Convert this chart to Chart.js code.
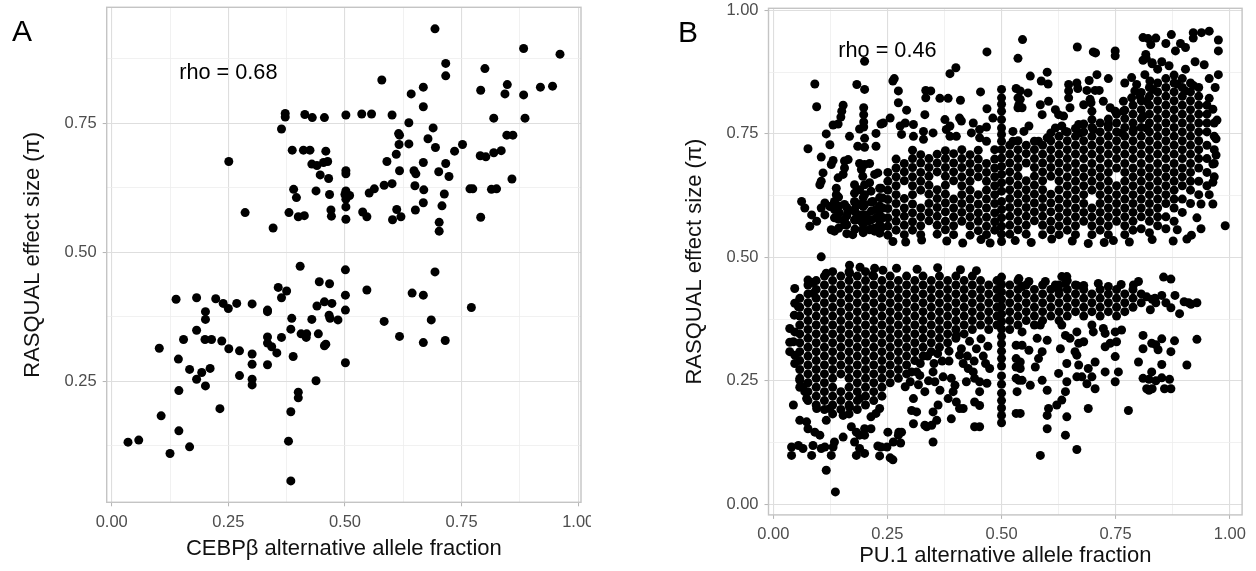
<!DOCTYPE html>
<html>
<head>
<meta charset="utf-8">
<script src="https://cdn.jsdelivr.net/npm/chart.js@4.4.1/dist/chart.umd.min.js"></script>
<style>
  body { margin: 0; width: 1256px; height: 571px; background: #fff; position: relative; overflow: hidden;
         font-family: "Liberation Sans", Arial, Helvetica, sans-serif; }
  canvas { position: absolute; top: 0; }
  #chartA { left: 0; }
  #chartB { left: 591px; }
  .tag { position: absolute; font-size: 30px; line-height: 1; color: #000; }
</style>
</head>
<body>
<canvas id="chartA" width="591" height="571"></canvas>
<canvas id="chartB" width="665" height="571"></canvas>
<div class="tag" style="left:12px;top:16px">A</div>
<div class="tag" style="left:678px;top:17px">B</div>
<script>
// ---- panel A: CEBPb allele fraction vs RASQUAL effect size ----
var cebpbPoints = [
  [.251,.676],[.286,.577],[.346,.547],[.372,.769],[.372,.762],[.364,.739],[.414,.767],[.430,.761],[.456,.761],
  [.387,.698],[.411,.698],[.425,.698],[.459,.696],[.429,.671],[.440,.668],[.454,.674],[.463,.676],[.447,.650],
  [.465,.643],[.390,.622],[.396,.606],[.438,.619],[.467,.612],[.380,.577],[.400,.569],[.413,.571],[.470,.582],
  [.471,.570],[.693,.933],[.883,.895],[.961,.884],[.716,.866],[.716,.842],[.800,.856],[.579,.834],[.848,.825],
  [.843,.807],[.791,.814],[.919,.820],[.945,.822],[.883,.805],[.668,.820],[.642,.807],[.668,.782],[.502,.766],
  [.536,.768],[.557,.768],[.601,.766],[.819,.760],[.886,.760],[.637,.751],[.689,.741],[.615,.730],[.617,.727],
  [.616,.709],[.637,.710],[.678,.720],[.694,.703],[.735,.696],[.752,.709],[.847,.727],[.860,.727],[.610,.690],
  [.590,.676],[.790,.687],[.802,.685],[.819,.693],[.835,.697],[.716,.672],[.668,.674],[.617,.658],[.648,.658],
  [.652,.652],[.701,.656],[.723,.647],[.858,.642],[.584,.630],[.601,.633],[.650,.629],[.669,.621],[.552,.615],
  [.563,.623],[.768,.623],[.774,.623],[.814,.622],[.825,.623],[.502,.658],[.502,.652],[.502,.619],[.500,.612],
  [.510,.610],[.502,.603],[.502,.588],[.502,.564],[.538,.578],[.547,.569],[.602,.563],[.611,.583],[.620,.569],
  [.651,.582],[.668,.596],[.713,.613],[.708,.590],[.702,.558],[.702,.541],[.791,.568],
  [.404,.473],[.445,.443],[.467,.439],[.357,.432],[.375,.425],[.364,.412],[.138,.409],[.182,.412],[.223,.410],
  [.239,.401],[.250,.391],[.268,.401],[.301,.400],[.334,.388],[.334,.385],[.440,.396],[.456,.404],[.472,.401],
  [.466,.378],[.468,.372],[.485,.369],[.429,.370],[.386,.372],[.384,.351],[.406,.342],[.417,.335],[.418,.342],
  [.443,.342],[.456,.319],[.459,.322],[.389,.298],[.438,.251],[.400,.229],[.400,.218],[.384,.191],[.379,.134],
  [.384,.057],[.102,.314],[.143,.293],[.154,.331],[.167,.273],[.182,.349],[.193,.267],[.182,.254],[.201,.385],
  [.201,.370],[.200,.331],[.214,.331],[.211,.275],[.201,.241],[.236,.328],[.251,.313],[.274,.309],[.274,.261],
  [.301,.303],[.301,.283],[.301,.254],[.301,.243],[.334,.336],[.334,.324],[.343,.317],[.354,.305],[.334,.282],
  [.364,.335],[.144,.232],[.106,.183],[.144,.154],[.167,.123],[.125,.110],[.035,.132],[.058,.136],[.232,.197],
  [.501,.466],[.501,.417],[.547,.427],[.501,.388],[.584,.366],[.617,.337],[.644,.421],[.668,.417],[.693,.462],
  [.685,.369],[.668,.325],[.715,.329],[.771,.393],[.501,.286]
];

// ---- panel B: PU.1 allele fraction vs RASQUAL effect size ----
var pu1UpperSparse = [
  [.20,.897],[.091,.851],[.183,.85],[.20,.84],[.095,.805],[.153,.808],[.15,.796],[.148,.784],[.198,.803],[.198,.789],
  [.198,.774],[.131,.768],[.142,.77],[.189,.76],[.198,.764],[.116,.75],[.124,.728],[.167,.745],[.20,.741],[.20,.723],
  [.185,.725],[.225,.751],[.236,.77],[.225,.725],[.076,.72],[.105,.703],[.131,.696],[.127,.688],[.156,.695],[.164,.698],
  [.156,.681],[.153,.668],[.189,.69],[.20,.688],[.211,.69],[.109,.671],[.105,.654],[.102,.647],[.193,.678],[.196,.664],
  [.142,.661],[.138,.64],[.138,.627],[.178,.647],[.178,.63],[.189,.637],[.20,.647],[.211,.651],[.222,.668],[.229,.671],
  [.062,.613],[.069,.60],[.084,.586],[.105,.60],[.113,.61],[.124,.603],[.113,.586],[.134,.613],[.134,.597],[.134,.58],
  [.145,.59],[.156,.607],[.164,.593],[.156,.576],[.178,.613],[.178,.597],[.178,.576],[.189,.607],[.189,.586],[.193,.573],
  [.20,.627],[.20,.607],[.204,.586],[.207,.573],[.214,.634],[.218,.613],[.225,.597],[.225,.58],[.222,.559],[.236,.64],
  [.24,.62],[.24,.60],[.24,.58],[.236,.559],[.08,.563],[.095,.573],[.127,.556],[.134,.553],[.156,.566],[.174,.546],
  [.196,.556],[.211,.556],[.222,.553],
  [.468,.916],[.546,.941],[.536,.903],[.40,.884],[.387,.872],[.265,.862],[.262,.857],[.274,.837],[.274,.813],[.292,.798],
  [.334,.838],[.345,.837],[.334,.823],[.365,.822],[.383,.822],[.41,.818],[.454,.835],[.468,.801],[.481,.782],[.532,.842],
  [.536,.823],[.536,.803],[.332,.789],[.376,.779],[.387,.766],[.408,.782],[.412,.776],[.438,.772],[.452,.759],[.467,.764],
  [.241,.772],[.256,.782],[.278,.766],[.289,.772],[.307,.769],[.281,.749],[.307,.745],[.329,.755],[.35,.752],[.329,.739],
  [.379,.759],[.387,.745],[.401,.745],[.434,.752],[.452,.742],[.467,.735],[.525,.755],[.525,.735],
  [.5,.84],[.5,.823],[.5,.81],[.5,.796],[.5,.779],[.5,.762],[.5,.749],[.5,.735],[.5,.718],[.5,.701],[.5,.684],[.5,.668],
  [.5,.651],[.5,.634],[.5,.613],[.5,.597],[.5,.58],[.5,.563],[.5,.547],[.5,.532],
  [.666,.926],[.701,.916],[.706,.914],[.749,.918],[.749,.908],[.81,.945],[.821,.943],[.827,.931],[.816,.911],[.81,.899],
  [.83,.894],[.563,.867],[.60,.875],[.587,.857],[.602,.851],[.541,.837],[.558,.833],[.541,.82],[.545,.803],[.538,.809],
  [.585,.809],[.603,.816],[.589,.789],[.647,.85],[.647,.837],[.665,.853],[.667,.842],[.692,.858],[.709,.87],[.714,.838],
  [.734,.862],[.687,.838],[.694,.82],[.705,.838],[.647,.823],[.65,.803],[.636,.786],[.618,.799],[.625,.789],[.68,.809],
  [.696,.813],[.698,.796],[.723,.816],[.738,.803],[.749,.796],[.77,.853],[.785,.864],[.796,.85],[.792,.837],[.785,.823],
  [.803,.826],[.814,.87],[.825,.857],[.832,.84],[.818,.816],[.767,.816],[.767,.796],[.81,.786],[.618,.762],[.632,.766],
  [.64,.755],[.669,.769],[.673,.752],[.698,.779],[.701,.759],[.56,.766],[.549,.755],[.581,.735],[.60,.742],[.734,.769],
  [.763,.752],[.789,.759],[.818,.762],
  [.955,.958],[.938,.955],[.92,.955],[.92,.944],[.975,.94],[.975,.918],[.892,.933],[.903,.925],[.872,.951],[.838,.944],
  [.86,.933],[.881,.918],[.903,.881],[.924,.896],[.944,.89],[.955,.862],[.975,.87],[.968,.844],[.99,.564],[.851,.896],
  [.867,.888],[.842,.881],[.817,.903],[.83,.892],[.885,.851],[.903,.837],[.92,.848],[.955,.822],[.963,.80],[.972,.778],
  [.97,.74],[.97,.707],[.963,.689],[.963,.652],[.955,.627],[.963,.608],[.937,.608],[.928,.58],[.916,.545],[.937,.558],
  [.885,.556],[.876,.533],[.906,.537],
  [.29,.531],[.325,.535],[.38,.533],[.415,.529],[.455,.536],[.53,.534],[.565,.53],[.61,.537],[.655,.533],[.69,.528],
  [.745,.534],[.78,.531],[.83,.536],[.262,.532],[.475,.529],[.725,.53]
];

// dense part of the upper band, one column per x: [x, y, y, ...]
var pu1UpperCols = [
  [.143,.559,.577,.604,.622],[.161,.548,.566,.584,.601],[.179,.557,.575,.592,.611],[.197,.55,.567,.585,.603,.621],
  [.215,.558,.576,.594,.612],[.233,.549,.567,.586,.604,.621,.64],[.251,.545,.563,.58,.599,.617,.636,.654,.672],
  [.269,.555,.573,.59,.609,.627,.645,.663,.681,.699],[.287,.546,.565,.583,.6,.619,.655,.673,.69],
  [.305,.555,.572,.59,.608,.627,.645,.663,.682,.7,.717],[.323,.546,.564,.582,.6,.636,.654,.672,.691,.708],
  [.341,.574,.591,.609,.628,.646,.664,.682,.7],[.359,.547,.565,.583,.601,.619,.637,.673,.691,.709],
  [.377,.556,.573,.592,.61,.628,.646,.664,.682,.7,.716],[.395,.546,.564,.582,.6,.618,.655,.673,.691,.71],
  [.413,.573,.591,.609,.627,.645,.663,.682,.7,.718],[.431,.545,.564,.582,.6,.618,.636,.654,.672,.69,.708],
  [.449,.554,.573,.59,.608,.627,.663,.681,.699,.717],[.467,.546,.563,.581,.6,.618,.636,.654,.672,.69],
  [.485,.555,.572,.59,.609,.627,.645,.663,.681,.699,.718],[.518,.547,.565,.583,.601,.619,.637,.655,.673,.691,.709,.727],
  [.536,.556,.574,.592,.61,.628,.646,.664,.682,.7,.718,.736],[.554,.547,.565,.583,.601,.619,.637,.655,.691,.71,.727],
  [.572,.574,.592,.61,.628,.646,.664,.682,.7,.718,.735],[.59,.546,.565,.583,.601,.619,.637,.655,.673,.691,.709,.727],
  [.608,.556,.573,.592,.61,.628,.664,.682,.7,.718,.736,.752],[.626,.546,.564,.582,.6,.618,.637,.655,.673,.691,.709,.727,.745],
  [.644,.555,.573,.591,.609,.627,.645,.663,.682,.7,.718,.736,.754],
  [.662,.546,.564,.582,.6,.618,.636,.654,.672,.69,.709,.727,.745,.761],
  [.68,.573,.591,.609,.627,.645,.663,.681,.7,.718,.736,.754,.77],
  [.698,.546,.564,.582,.6,.636,.654,.672,.69,.709,.727,.745,.763],
  [.716,.555,.573,.591,.609,.627,.645,.663,.681,.7,.718,.736,.754,.772],
  [.734,.546,.564,.582,.6,.618,.636,.654,.672,.69,.709,.727,.745,.763,.78],
  [.752,.573,.591,.609,.627,.645,.681,.7,.718,.736,.754,.772,.79],
  [.77,.546,.564,.582,.6,.618,.636,.654,.672,.69,.709,.727,.745,.763,.781,.798],
  [.788,.555,.573,.591,.609,.627,.645,.663,.681,.7,.718,.736,.754,.772,.79,.808],
  [.806,.558,.582,.6,.618,.636,.654,.672,.69,.709,.727,.745,.763,.781,.799,.817,.834],
  [.824,.55,.573,.591,.609,.627,.645,.663,.681,.7,.718,.736,.754,.772,.79,.808,.826,.844],
  [.842,.564,.582,.6,.618,.636,.654,.672,.69,.709,.727,.745,.763,.781,.799,.817,.835,.853],
  [.86,.558,.582,.609,.627,.645,.663,.681,.7,.718,.736,.754,.772,.79,.808,.826,.844,.862],
  [.878,.573,.6,.618,.636,.654,.672,.69,.709,.727,.745,.763,.781,.799,.817,.835,.853,.869],
  [.896,.591,.618,.645,.663,.681,.7,.718,.736,.754,.772,.79,.808,.826,.844,.862],
  [.914,.609,.636,.654,.672,.69,.709,.727,.745,.763,.781,.799,.817,.835,.853],
  [.932,.627,.654,.681,.7,.718,.736,.754,.772,.79,.808,.826,.844],
  [.95,.645,.672,.7,.727,.754,.772,.79,.808],[.966,.663,.69,.718,.745,.772]
];

// dense part of the lower band
var pu1LowerCols = [
  [.058,.237,.255,.273,.291,.309,.327,.345,.363,.381,.399,.417],
  [.076,.21,.228,.246,.264,.282,.3,.318,.336,.354,.372,.39,.408,.426,.444],
  [.094,.201,.219,.237,.255,.273,.291,.309,.327,.345,.363,.381,.399,.417,.435,.453],
  [.112,.192,.21,.228,.246,.264,.282,.3,.318,.336,.354,.372,.39,.408,.426,.444,.462],
  [.13,.183,.201,.219,.237,.255,.273,.291,.309,.327,.345,.363,.381,.399,.417,.435,.453,.471],
  [.148,.192,.21,.228,.264,.282,.3,.318,.336,.354,.372,.39,.408,.426,.444,.462],
  [.166,.183,.201,.219,.237,.255,.273,.291,.309,.327,.345,.363,.381,.399,.417,.435,.453,.471],
  [.184,.192,.21,.228,.246,.264,.282,.3,.318,.336,.354,.372,.39,.408,.426,.444,.462],
  [.202,.201,.219,.237,.255,.273,.291,.309,.327,.345,.363,.381,.399,.417,.435,.453,.471],
  [.22,.21,.228,.246,.264,.282,.3,.318,.336,.354,.372,.39,.408,.426,.444,.462],
  [.238,.219,.237,.255,.273,.291,.309,.327,.345,.363,.381,.399,.417,.435,.453],
  [.256,.246,.264,.282,.3,.318,.336,.354,.372,.39,.408,.426,.444,.462],
  [.274,.255,.273,.291,.309,.327,.345,.363,.381,.399,.417,.435,.453],
  [.292,.264,.282,.3,.318,.336,.354,.372,.39,.408,.426,.444,.462],
  [.31,.291,.309,.327,.345,.363,.381,.399,.417,.435,.453],[.328,.3,.318,.336,.354,.372,.39,.408,.426,.444,.462],
  [.346,.309,.327,.345,.363,.381,.399,.417,.435,.453],[.364,.318,.336,.354,.372,.39,.408,.426,.444,.462],
  [.382,.327,.345,.363,.381,.399,.417,.435,.453],[.4,.336,.354,.372,.39,.408,.426,.444,.462],
  [.418,.345,.363,.381,.399,.417,.435,.453],[.436,.354,.372,.39,.408,.426,.444,.462],
  [.454,.363,.381,.399,.417,.435,.453],[.472,.354,.372,.39,.408,.426,.444],[.49,.363,.381,.399,.417,.435,.453],
  [.518,.354,.372,.39,.408,.426,.444],[.536,.363,.381,.399,.417,.435,.453],[.554,.372,.39,.408,.426,.444],
  [.572,.363,.381,.399,.417,.435],[.59,.372,.39,.408,.426,.444],[.608,.381,.399,.417,.435],
  [.626,.372,.39,.408,.426,.444],[.644,.381,.399,.417,.435,.453],[.662,.39,.408,.426,.444],
  [.68,.381,.399,.417,.435],[.698,.39,.408,.426],[.716,.381,.399,.417,.435],[.734,.39,.408,.426],
  [.752,.381,.399,.417,.435],[.77,.39,.408,.426],[.788,.399,.417,.435],[.806,.408,.426]
];

var pu1LowerSparse = [
  [.105,.501],[.167,.484],[.167,.468],[.222,.478],[.218,.464],[.116,.468],[.076,.454],[.087,.449],[.087,.427],[.047,.437],
  [.047,.407],[.055,.40],[.046,.383],[.036,.356],[.047,.349],[.036,.328],[.044,.329],[.036,.309],[.047,.302],[.047,.285],
  [.058,.251],[.065,.238],[.044,.201],[.069,.228],[.073,.214],[.058,.17],[.073,.167],[.076,.153],[.091,.146],[.102,.14],
  [.04,.116],[.04,.099],[.055,.119],[.065,.113],[.087,.119],[.084,.099],[.105,.113],[.113,.116],[.127,.099],[.131,.116],
  [.134,.126],[.116,.069],[.153,.136],[.116,.17],[.171,.157],[.182,.146],[.189,.14],[.178,.126],[.189,.113],[.182,.099],
  [.20,.103],[.20,.153],[.214,.153],[.20,.14],[.225,.184],[.214,.177],[.233,.194],[.189,.214],[.167,.197],[.229,.118],
  [.233,.098],[.136,.025],[.153,.18],[.124,.194],[.095,.194],[.236,.116],[.249,.116],[.256,.094],[.262,.09],[.251,.146],
  [.275,.146],[.279,.124],
  [.314,.268],[.332,.228],[.307,.214],[.303,.19],[.314,.187],[.289,.238],[.35,.268],[.354,.248],[.365,.231],[.361,.201],
  [.35,.187],[.358,.17],[.347,.16],[.336,.157],[.39,.255],[.398,.241],[.394,.228],[.383,.214],[.401,.207],[.408,.194],
  [.39,.173],[.416,.194],[.441,.255],[.452,.248],[.452,.228],[.441,.207],[.452,.20],[.441,.157],[.452,.157],[.408,.302],
  [.416,.285],[.412,.315],[.401,.342],[.474,.275],[.532,.322],[.532,.295],[.532,.278],[.532,.255],[.532,.184],[.274,.14],
  [.281,.146],[.263,.126],[.35,.126],[.307,.163],[.332,.16],[.34,.25],[.303,.268],[.321,.261],[.30,.248],[.427,.275],
  [.438,.268],[.43,.33],[.445,.315],[.46,.30],[.425,.30],[.455,.335],[.47,.32],[.385,.31],[.37,.29],[.36,.305],
  [.385,.29],[.44,.29],[.465,.285],[.322,.285],[.338,.3],[.352,.285],[.318,.242],[.372,.258],[.423,.248],[.468,.245],
  [.27,.478],[.315,.476],[.36,.479],[.41,.475],[.445,.473],[.19,.48],[.24,.474],
  [.5,.46],[.5,.445],[.5,.43],[.5,.415],[.5,.40],[.5,.385],[.5,.37],[.5,.355],[.5,.34],[.5,.325],[.5,.31],[.5,.295],
  [.5,.28],[.5,.26],[.5,.243],[.5,.225],[.5,.21],[.5,.195],[.5,.18],[.5,.165],
  [.632,.461],[.643,.461],[.64,.447],[.596,.451],[.618,.444],[.625,.434],[.538,.457],[.56,.451],[.545,.441],[.665,.443],
  [.68,.443],[.712,.447],[.734,.441],[.762,.445],[.789,.444],[.80,.451],[.818,.42],[.836,.417],[.545,.349],[.545,.322],
  [.56,.312],[.578,.336],[.60,.332],[.585,.363],[.632,.363],[.64,.342],[.65,.336],[.665,.349],[.669,.326],[.68,.329],
  [.661,.309],[.629,.315],[.698,.363],[.701,.349],[.723,.356],[.727,.346],[.749,.349],[.763,.353],[.727,.319],[.738,.326],
  [.752,.329],[.749,.299],[.705,.288],[.69,.275],[.698,.258],[.687,.244],[.705,.234],[.665,.302],[.669,.282],[.665,.258],
  [.676,.258],[.643,.285],[.625,.265],[.643,.248],[.64,.228],[.632,.211],[.621,.201],[.603,.194],[.60,.18],[.589,.309],
  [.581,.295],[.574,.278],[.541,.288],[.541,.275],[.538,.251],[.545,.251],[.563,.241],[.589,.251],[.60,.231],[.727,.268],
  [.756,.268],[.749,.248],[.81,.342],[.81,.315],[.829,.326],[.829,.268],[.818,.234],[.81,.255],[.80,.288],[.69,.194],
  [.778,.19],[.541,.184],[.60,.153],[.643,.177],[.64,.14],[.585,.099],[.665,.111],[.534,.228],
  [.928,.334],[.906,.282],[.91,.408],[.928,.408],[.88,.423],[.89,.386],[.879,.331],[.871,.309],[.851,.423],[.86,.408],
  [.871,.398],[.855,.46],[.871,.456],[.83,.415],[.838,.408],[.826,.394],[.838,.323],[.851,.335],[.843,.313],[.851,.283],
  [.851,.256],[.871,.234],[.857,.234],[.838,.25],[.83,.234],[.823,.253],[.823,.231],[.868,.253],[.90,.41],[.915,.405]
];

// axes
var tickVals = [0, 0.25, 0.5, 0.75, 1];
var tickLabels = ['0.00', '0.25', '0.50', '0.75', '1.00'];
var minorVals = [0.125, 0.375, 0.625, 0.875];
var yTitle = 'RASQUAL effect size (\u03c0)';
var xTitleA = 'CEBP\u03b2 alternative allele fraction';
var xTitleB = 'PU.1 alternative allele fraction';
var rhoA = 'rho = 0.68';
var rhoB = 'rho = 0.46';

var FONT = '"Liberation Sans", Arial, Helvetica, sans-serif';
Chart.defaults.font.family = FONT;

function pairs(list) {
  return list.map(function (p) { return {x: p[0], y: p[1]}; });
}
function columns(cols) {
  var out = [];
  cols.forEach(function (c) {
    for (var i = 1; i < c.length; i++) out.push({x: c[0], y: c[i]});
  });
  return out;
}
function isMajor(v) {
  return tickVals.indexOf(v) >= 0;
}

var framePlugin = {
  id: 'panelFrame',
  afterDatasetsDraw: function (chart) {
    var a = chart.chartArea, ctx = chart.ctx;
    ctx.save();
    ctx.strokeStyle = '#c4c4c4';
    ctx.lineWidth = 1.4;
    ctx.strokeRect(a.left, a.top, a.right - a.left, a.bottom - a.top);
    ctx.restore();
  }
};
var rhoPlugin = {
  id: 'rhoLabel',
  afterDatasetsDraw: function (chart, args, opts) {
    var ctx = chart.ctx;
    var x = chart.scales.x.getPixelForValue(opts.at[0]);
    var y = chart.scales.y.getPixelForValue(opts.at[1]);
    ctx.save();
    ctx.font = '21.7px ' + FONT;
    ctx.fillStyle = '#000';
    ctx.textAlign = 'center';
    ctx.textBaseline = 'middle';
    ctx.fillText(opts.text, x, y);
    ctx.restore();
  }
};

function axis(cfg, which) {
  var horiz = which === 'x';
  return {
    type: 'linear',
    min: cfg[which + 'Range'][0],
    max: cfg[which + 'Range'][1],
    afterBuildTicks: function (s) {
      s.ticks = tickVals.concat(minorVals)
        .filter(function (v) { return v >= s.min && v <= s.max; })
        .sort(function (a, b) { return a - b; })
        .map(function (v) { return {value: v}; });
    },
    afterFit: function (s) {
      if (horiz) { s.height = cfg.xAxisHeight; s.paddingLeft = 0; s.paddingRight = 0; }
      else { s.width = cfg.yAxisWidth; s.paddingTop = 0; s.paddingBottom = 0; }
    },
    ticks: {
      autoSkip: false, maxRotation: 0, minRotation: 0, padding: 6,
      color: '#4d4d4d', font: {size: 16.5},
      callback: function (v) {
        var i = tickVals.indexOf(v);
        return i < 0 ? '' : tickLabels[i];
      }
    },
    grid: {
      color: function (c) { return isMajor(c.tick.value) ? '#dedede' : '#eeeeee'; },
      lineWidth: function (c) { return isMajor(c.tick.value) ? 1.1 : 0.8; },
      drawTicks: true, tickLength: 4, tickWidth: 1,
      tickColor: function (c) { return isMajor(c.tick.value) ? '#b3b3b3' : 'rgba(0,0,0,0)'; }
    },
    border: {display: false},
    title: {
      display: true,
      text: horiz ? cfg.xTitle : yTitle,
      color: '#111', font: {size: 22},
      padding: horiz ? {top: 0, bottom: cfg.xTitlePad} : {top: cfg.yTitlePad, bottom: 0}
    }
  };
}

function makePanel(id, cfg) {
  return new Chart(document.getElementById(id), {
    type: 'scatter',
    data: {
      datasets: [{
        data: cfg.points,
        backgroundColor: '#000',
        borderWidth: 0,
        pointRadius: 4.5,
        pointHoverRadius: 4.5
      }]
    },
    options: {
      responsive: false,
      animation: false,
      devicePixelRatio: 1,
      events: [],
      layout: {padding: cfg.pad},
      plugins: {
        legend: {display: false},
        tooltip: {enabled: false},
        rhoLabel: {text: cfg.rho, at: cfg.rhoAt}
      },
      scales: {x: axis(cfg, 'x'), y: axis(cfg, 'y')}
    },
    plugins: [framePlugin, rhoPlugin]
  });
}

makePanel('chartA', {
  points: pairs(cebpbPoints),
  xRange: [-0.0107, 1.006], yRange: [0.0155, 0.9748],
  pad: {left: 0, top: 7.3, right: 10, bottom: 0},
  yAxisWidth: 106.7, xAxisHeight: 68.7,
  xTitle: xTitleA, xTitlePad: 8.8, yTitlePad: 19.6,
  rho: rhoA, rhoAt: [0.25, 0.847]
});

makePanel('chartB', {
  points: pairs(pu1UpperSparse).concat(columns(pu1UpperCols), columns(pu1LowerCols), pairs(pu1LowerSparse)),
  xRange: [-0.0105, 1.027], yRange: [-0.0215, 1.0043],
  pad: {left: 0, top: 8.3, right: 13.9, bottom: 0},
  yAxisWidth: 177.5, xAxisHeight: 56.1,
  xTitle: xTitleB, xTitlePad: 1.5, yTitlePad: 91.1,
  rho: rhoB, rhoAt: [0.25, 0.917]
});
</script>
</body>
</html>
